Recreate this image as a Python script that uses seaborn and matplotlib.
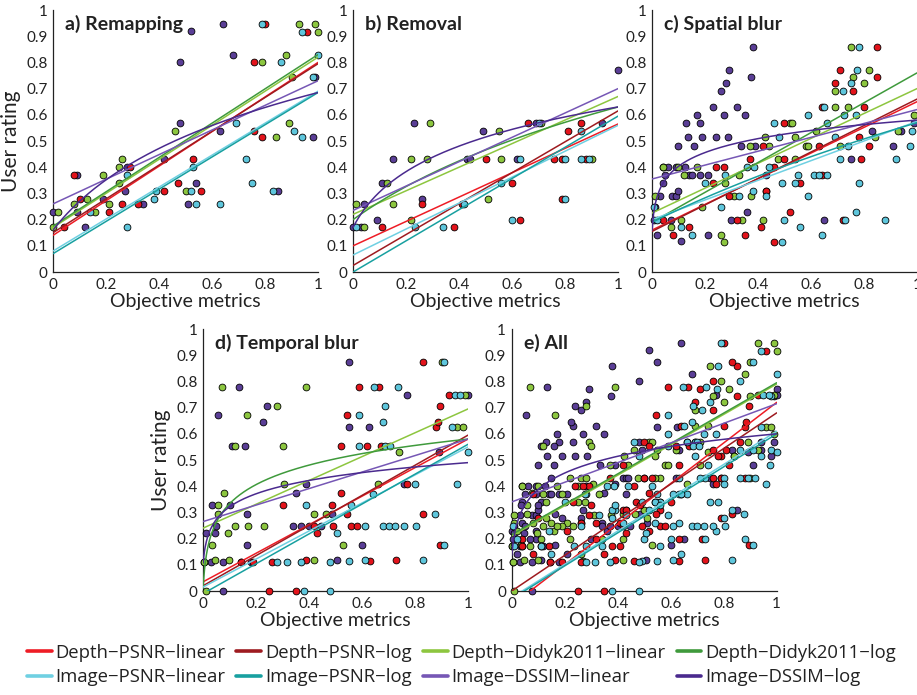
import numpy as np
import pandas as pd
import matplotlib
matplotlib.use("Agg")
import matplotlib.pyplot as plt
import seaborn as sns

# ---- scatter data (metric value, user rating) ----
remap_depth_psnr = [(0.04, 0.17), (0.08, 0.37), (0.10, 0.28), (0.21, 0.23), (0.26, 0.26), (0.29, 0.40),
                    (0.32, 0.26), (0.42, 0.31), (0.47, 0.34), (0.53, 0.43), (0.56, 0.31), (0.76, 0.80),
                    (0.76, 0.54), (0.79, 0.515), (0.80, 0.945), (0.96, 0.915)]
remap_depth_didyk = [(0.0, 0.17), (0.02, 0.23), (0.08, 0.26), (0.13, 0.28), (0.16, 0.23), (0.19, 0.37),
                     (0.21, 0.26), (0.25, 0.34), (0.25, 0.40), (0.26, 0.43), (0.46, 0.54), (0.50, 0.31),
                     (0.79, 0.80), (0.88, 0.83), (0.89, 0.57), (0.90, 0.745), (0.84, 0.515), (0.93, 0.945),
                     (0.99, 0.945), (1.0, 0.915)]
remap_image_psnr = [(0.14, 0.23), (0.28, 0.17), (0.28, 0.37), (0.38, 0.28), (0.39, 0.31), (0.52, 0.31),
                    (0.53, 0.40), (0.54, 0.26), (0.63, 0.26), (0.69, 0.57), (0.73, 0.43), (0.75, 0.34),
                    (0.79, 0.945), (0.86, 0.80), (0.83, 0.31), (0.91, 0.54), (0.94, 0.915), (0.94, 0.515),
                    (0.98, 0.745), (1.0, 0.83)]
remap_image_dssim = [(0.0, 0.23), (0.09, 0.37), (0.09, 0.23), (0.12, 0.17), (0.19, 0.28), (0.27, 0.31),
                     (0.28, 0.40), (0.34, 0.26), (0.42, 0.43), (0.48, 0.80), (0.48, 0.57), (0.51, 0.26),
                     (0.52, 0.92), (0.54, 0.34), (0.63, 0.54), (0.64, 0.945), (0.68, 0.83), (0.85, 0.31),
                     (0.98, 0.515), (0.99, 0.745)]

removal_depth_psnr = [(0.11, 0.17), (0.26, 0.26), (0.41, 0.26), (0.38, 0.17), (0.50, 0.43), (0.60, 0.34),
                      (0.63, 0.20), (0.66, 0.57), (0.76, 0.43), (0.79, 0.28), (0.81, 0.54), (0.79, 0.43),
                      (0.86, 0.57), (0.88, 0.43)]
removal_depth_didyk = [(0.01, 0.26), (0.04, 0.17), (0.13, 0.34), (0.15, 0.26), (0.22, 0.43), (0.22, 0.20),
                       (0.28, 0.43), (0.29, 0.57), (0.51, 0.28), (0.55, 0.54), (0.56, 0.43), (0.71, 0.57),
                       (0.90, 0.43)]
removal_image_psnr = [(0.01, 0.17), (0.235, 0.17), (0.34, 0.17), (0.42, 0.26), (0.56, 0.34), (0.60, 0.20),
                      (0.63, 0.43), (0.70, 0.57), (0.80, 0.28), (0.80, 0.43), (0.86, 0.54), (0.86, 0.43),
                      (0.89, 0.43)]
removal_image_dssim = [(0.0, 0.17), (0.03, 0.17), (0.04, 0.26), (0.09, 0.20), (0.11, 0.34), (0.15, 0.43),
                       (0.23, 0.57), (0.26, 0.28), (0.43, 0.43), (0.44, 0.43), (0.49, 0.54), (0.62, 0.43),
                       (0.69, 0.57), (0.94, 0.57), (1.0, 0.77)]

spatial_depth_psnr = [(0.04, 0.20), (0.08, 0.14), (0.14, 0.17), (0.23, 0.34), (0.24, 0.40), (0.27, 0.40),
                      (0.29, 0.29), (0.32, 0.20), (0.35, 0.14), (0.37, 0.43), (0.41, 0.17), (0.42, 0.48),
                      (0.43, 0.31), (0.46, 0.115), (0.46, 0.40), (0.50, 0.57), (0.50, 0.43), (0.52, 0.23),
                      (0.56, 0.34), (0.63, 0.48), (0.64, 0.37), (0.64, 0.63), (0.69, 0.72), (0.71, 0.77),
                      (0.72, 0.20), (0.76, 0.69), (0.78, 0.515), (0.79, 0.43), (0.80, 0.63), (0.82, 0.48),
                      (0.85, 0.745), (0.85, 0.86)]
spatial_depth_didyk = [(0.01, 0.29), (0.04, 0.40), (0.07, 0.17), (0.10, 0.40), (0.11, 0.20), (0.12, 0.37),
                       (0.17, 0.40), (0.19, 0.25), (0.26, 0.14), (0.27, 0.115), (0.275, 0.34), (0.31, 0.29),
                       (0.33, 0.37), (0.34, 0.20), (0.37, 0.48), (0.375, 0.29), (0.42, 0.20), (0.425, 0.515),
                       (0.43, 0.31), (0.44, 0.48), (0.475, 0.43), (0.52, 0.57), (0.53, 0.57), (0.54, 0.43),
                       (0.54, 0.515), (0.58, 0.48), (0.59, 0.48), (0.62, 0.54), (0.69, 0.63), (0.69, 0.69),
                       (0.71, 0.48), (0.74, 0.63), (0.75, 0.86), (0.76, 0.745), (0.80, 0.72), (0.82, 0.77),
                       (0.84, 0.515), (0.93, 0.54), (0.99, 0.60)]
spatial_image_psnr = [(0.006, 0.25), (0.02, 0.20), (0.11, 0.17), (0.15, 0.14), (0.20, 0.34), (0.26, 0.25),
                      (0.275, 0.37), (0.33, 0.29), (0.36, 0.40), (0.38, 0.31), (0.385, 0.40), (0.43, 0.29),
                      (0.44, 0.40), (0.46, 0.57), (0.48, 0.515), (0.49, 0.115), (0.49, 0.34), (0.50, 0.20),
                      (0.54, 0.34), (0.55, 0.37), (0.56, 0.17), (0.59, 0.29), (0.59, 0.60), (0.61, 0.37),
                      (0.63, 0.37), (0.64, 0.14), (0.65, 0.63), (0.66, 0.37), (0.66, 0.57), (0.69, 0.515),
                      (0.71, 0.43), (0.72, 0.69), (0.725, 0.60), (0.73, 0.20), (0.74, 0.48), (0.75, 0.72),
                      (0.77, 0.60), (0.775, 0.77), (0.78, 0.86), (0.77, 0.23), (0.78, 0.34), (0.88, 0.20),
                      (0.92, 0.43), (0.975, 0.48), (0.98, 0.54)]
spatial_image_dssim = [(0.006, 0.20), (0.02, 0.14), (0.01, 0.25), (0.03, 0.29), (0.04, 0.34), (0.05, 0.37),
                       (0.04, 0.40), (0.06, 0.40), (0.07, 0.20), (0.075, 0.29), (0.09, 0.29), (0.10, 0.31),
                       (0.09, 0.40), (0.10, 0.48), (0.11, 0.12), (0.125, 0.40), (0.13, 0.57), (0.135, 0.515),
                       (0.14, 0.37), (0.15, 0.37), (0.16, 0.48), (0.17, 0.60), (0.18, 0.57), (0.18, 0.37),
                       (0.19, 0.515), (0.21, 0.14), (0.21, 0.37), (0.23, 0.63), (0.24, 0.515), (0.26, 0.69),
                       (0.27, 0.60), (0.28, 0.72), (0.285, 0.515), (0.29, 0.77), (0.30, 0.20), (0.32, 0.63),
                       (0.335, 0.48), (0.35, 0.60), (0.36, 0.23), (0.375, 0.745), (0.38, 0.86), (0.39, 0.48),
                       (0.43, 0.37), (0.65, 0.20), (0.75, 0.43), (0.83, 0.54), (0.91, 0.48), (0.94, 0.54),
                       (0.99, 0.57)]

temporal_depth_psnr = [(0.145, 0.11), (0.19, 0.11), (0.25, 0.0), (0.26, 0.11), (0.30, 0.33), (0.35, 0.0),
                       (0.39, 0.12), (0.42, 0.25), (0.43, 0.22), (0.485, 0.33), (0.49, 0.25), (0.52, 0.375),
                       (0.52, 0.555), (0.545, 0.295), (0.545, 0.67), (0.56, 0.25), (0.58, 0.25), (0.59, 0.78),
                       (0.62, 0.555), (0.63, 0.115), (0.665, 0.78), (0.67, 0.555), (0.73, 0.12), (0.77, 0.41),
                       (0.83, 0.875), (0.83, 0.295), (0.88, 0.625), (0.885, 0.645), (0.895, 0.175),
                       (0.895, 0.705), (0.93, 0.75)]
temporal_depth_didyk = [(0.01, 0.0), (0.005, 0.11), (0.035, 0.175), (0.045, 0.12), (0.056, 0.33),
                        (0.056, 0.295), (0.07, 0.78), (0.078, 0.375), (0.095, 0.22), (0.098, 0.12),
                        (0.12, 0.25), (0.12, 0.555), (0.165, 0.67), (0.17, 0.25), (0.23, 0.25), (0.28, 0.705),
                        (0.30, 0.555), (0.305, 0.41), (0.39, 0.78), (0.42, 0.295), (0.42, 0.12),
                        (0.465, 0.295), (0.53, 0.175), (0.66, 0.41), (0.74, 0.53), (0.90, 0.875),
                        (0.96, 0.625), (0.98, 0.625), (0.99, 0.75)]
temporal_image_psnr = [(0.38, 0.0), (0.48, 0.0), (0.28, 0.11), (0.315, 0.11), (0.37, 0.11), (0.48, 0.11),
                       (0.55, 0.115), (0.61, 0.12), (0.83, 0.12), (0.39, 0.33), (0.505, 0.22), (0.56, 0.33),
                       (0.59, 0.555), (0.59, 0.67), (0.61, 0.25), (0.64, 0.37), (0.645, 0.78), (0.68, 0.645),
                       (0.685, 0.705), (0.68, 0.25), (0.70, 0.25), (0.685, 0.555), (0.705, 0.555),
                       (0.725, 0.25), (0.735, 0.78), (0.76, 0.25), (0.80, 0.41), (0.805, 0.25),
                       (0.875, 0.295), (0.91, 0.175), (0.91, 0.875), (0.94, 0.625), (0.95, 0.75),
                       (0.97, 0.75), (0.96, 0.41), (1.0, 0.53)]
temporal_image_dssim = [(0.01, 0.22), (0.005, 0.11), (0.03, 0.11), (0.035, 0.33), (0.045, 0.22),
                        (0.05, 0.25), (0.055, 0.67), (0.075, 0.11), (0.075, 0.0), (0.10, 0.33),
                        (0.11, 0.555), (0.135, 0.78), (0.145, 0.11), (0.16, 0.555), (0.165, 0.295),
                        (0.165, 0.175), (0.18, 0.11), (0.225, 0.645), (0.24, 0.705), (0.34, 0.25),
                        (0.35, 0.375), (0.37, 0.25), (0.39, 0.41), (0.40, 0.25), (0.445, 0.25),
                        (0.485, 0.295), (0.505, 0.12), (0.55, 0.625), (0.55, 0.875), (0.60, 0.175),
                        (0.625, 0.625), (0.76, 0.41), (0.77, 0.75), (0.89, 0.53), (1.0, 0.75)]

# ---- fitted curves: (value at 0, value at 1, log curvature or None) ----
# order: Depth-PSNR lin/log, Depth-Didyk2011 lin/log, Image-PSNR lin/log, Image-DSSIM lin/log
remap_fits = [(0.14, 0.80, None), (0.15, 0.795, None), (0.17, 0.82, None), (0.175, 0.83, None),
              (0.08, 0.69, None), (0.07, 0.685, None), (0.26, 0.73, None), (0.16, 0.685, 0.25)]
removal_fits = [(0.10, 0.565, None), (0.025, 0.615, None), (0.22, 0.67, None), (0.20, 0.63, 0.6),
                (0.065, 0.56, None), (0.0, 0.595, None), (0.235, 0.70, None), (0.17, 0.63, 0.095)]
spatial_fits = [(0.16, 0.65, None), (0.155, 0.66, None), (0.225, 0.70, None), (0.19, 0.76, None),
                (0.20, 0.575, None), (0.19, 0.57, 1.5), (0.355, 0.62, None), (0.15, 0.58, 0.004)]
temporal_fits = [(0.035, 0.58, None), (0.02, 0.595, None), (0.24, 0.695, None), (0.0, 0.58, 0.005),
                 (0.015, 0.55, None), (-0.01, 0.56, None), (0.265, 0.58, None), (0.10, 0.49, 0.0055)]
all_fits = [(-0.054, 0.72, None), (0.0, 0.68, None), (0.21, 0.79, None), (0.215, 0.795, None),
            (-0.025, 0.61, None), (-0.03, 0.60, None), (0.34, 0.715, None), (0.13, 0.60, 0.007)]

fit_names = ['Depth\u2212PSNR\u2212linear', 'Depth\u2212PSNR\u2212log',
             'Depth\u2212Didyk2011\u2212linear', 'Depth\u2212Didyk2011\u2212log',
             'Image\u2212PSNR\u2212linear', 'Image\u2212PSNR\u2212log',
             'Image\u2212DSSIM\u2212linear', 'Image\u2212DSSIM\u2212log']
fit_colors = ['#ee1c25', '#9e1b20', '#8dc63f', '#3f9a3c', '#6fd0e2', '#18a0a0', '#7657b5', '#4a2a8e']
point_colors = ['#e3131b', '#8cc63f', '#5ec6dc', '#5a3e96']  # Depth-PSNR, Didyk, Image-PSNR, DSSIM

panel_titles = ['a) Remapping', 'b) Removal', 'c) Spatial blur', 'd) Temporal blur', 'e) All']
x_ticks = [0, 0.2, 0.4, 0.6, 0.8, 1]
x_tick_labels = ['0', '0.2', '0.4', '0.6', '0.8', '1']
y_ticks = [0, 0.1, 0.2, 0.3, 0.4, 0.5, 0.6, 0.7, 0.8, 0.9, 1]
y_tick_labels = ['0', '0.1', '0.2', '0.3', '0.4', '0.5', '0.6', '0.7', '0.8', '0.9', '1']

panel_points = [
    [remap_depth_psnr, remap_depth_didyk, remap_image_psnr, remap_image_dssim],
    [removal_depth_psnr, removal_depth_didyk, removal_image_psnr, removal_image_dssim],
    [spatial_depth_psnr, spatial_depth_didyk, spatial_image_psnr, spatial_image_dssim],
    [temporal_depth_psnr, temporal_depth_didyk, temporal_image_psnr, temporal_image_dssim],
]
# "All" pools the four distortion sets
panel_points.append([sum((p[k] for p in panel_points), []) for k in range(4)])
panel_fits = [remap_fits, removal_fits, spatial_fits, temporal_fits, all_fits]

sns.set_style('white')
plt.rcParams['font.family'] = ['Lato', 'DejaVu Sans']

fig = plt.figure(figsize=(9.17, 6.95), dpi=100)
w, h = 0.289, 0.377
positions = [(0.0578, 0.6086), (0.385, 0.6086), (0.711, 0.6086), (0.2214, 0.1496), (0.558, 0.1496)]

xs = np.linspace(0.0005, 1, 400)


def curve(y0, y1, c):
    if c is None:
        return y0 + (y1 - y0) * xs
    return y0 + (y1 - y0) * np.log1p(xs / c) / np.log1p(1 / c)


handles = []
for i, (left, bottom) in enumerate(positions):
    ax = fig.add_axes([left, bottom, w, h])
    for k in [3, 1, 0, 2]:
        pts = np.array(panel_points[i][k])
        sns.scatterplot(x=pts[:, 0], y=pts[:, 1], ax=ax, color=point_colors[k], s=24,
                        edgecolor='black', linewidth=0.6, clip_on=False, zorder=3, legend=False)
    for j, (y0, y1, c) in enumerate(panel_fits[i]):
        df = pd.DataFrame({'x': xs, 'y': curve(y0, y1, c)})
        sns.lineplot(data=df, x='x', y='y', ax=ax, color=fit_colors[j], linewidth=1.1,
                     zorder=4, sort=False, estimator=None)
        if i == 0:
            handles.append(ax.lines[-1])
    ax.set_xlim(0, 1)
    ax.set_ylim(0, 1)
    ax.set_xticks(x_ticks)
    ax.set_xticklabels(x_tick_labels)
    ax.set_yticks(y_ticks)
    ax.set_yticklabels(y_tick_labels)
    ax.tick_params(direction='in', length=3, labelsize=11, color='#222222', labelcolor='#222222', pad=4)
    for s in ['top', 'right']:
        ax.spines[s].set_visible(False)
    for s in ['left', 'bottom']:
        ax.spines[s].set_color('#222222')
        ax.spines[s].set_linewidth(0.9)
    ax.set_xlabel('Objective metrics', fontsize=14, labelpad=1, color='#222222')
    if i in (0, 3):
        ax.set_ylabel('User rating', fontsize=15, labelpad=4, color='#222222')
    else:
        ax.set_ylabel('')
    ax.text(0.045, 0.945, panel_titles[i], transform=ax.transAxes, fontsize=14, fontweight='bold',
            va='center', ha='left', color='#222222')

# legend: Depth fits on the first row, Image fits on the second
order = [0, 4, 1, 5, 2, 6, 3, 7]
leg = fig.legend([handles[k] for k in order], [fit_names[k] for k in order], ncol=4, loc='center',
                 bbox_to_anchor=(0.503, 0.043), frameon=False, handlelength=1.35, handletextpad=0.2,
                 columnspacing=0.6, labelspacing=0.35,
                 prop={'family': ['Open Sans', 'DejaVu Sans'], 'size': 13.3})
for line in leg.get_lines():
    line.set_linewidth(2.6)
for t in leg.get_texts():
    t.set_color('#222222')

fig.savefig('out.png', dpi=100)
